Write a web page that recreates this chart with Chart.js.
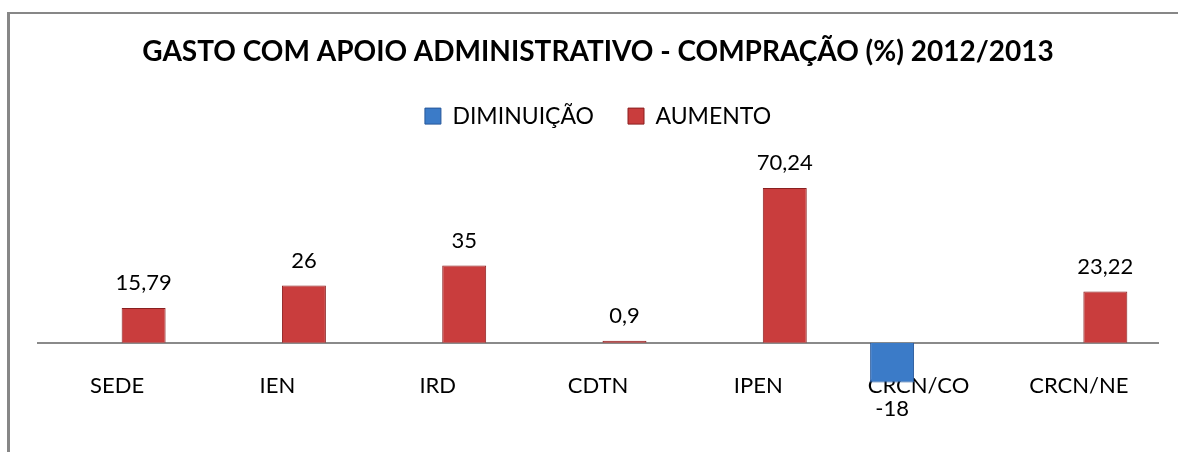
<!DOCTYPE html>
<html>
<head>
<meta charset="utf-8">
<script src="https://cdn.jsdelivr.net/npm/chart.js@4.4.0/dist/chart.umd.min.js"></script>
<style>
  html, body { margin:0; padding:0; background:#fff; }
  #wrap { position:relative; width:1178px; height:452px; overflow:hidden; }
  #frame { position:absolute; left:7px; top:12px; right:0; bottom:0; border-left:3px solid #878787; border-top:2px solid #878787; }
  #chart { position:absolute; left:0; top:0; }
</style>
</head>
<body>
<div id="wrap">
  <div id="frame"></div>
  <canvas id="chart" width="1178" height="452"></canvas>
</div>
<script>
// data
const categories = ['SEDE', 'IEN', 'IRD', 'CDTN', 'IPEN', 'CRCN/CO', 'CRCN/NE'];
const diminuicao = [null, null, null, null, null, -18, null];
const aumento = [15.79, 26, 35, 0.9, 70.24, null, 23.22];

const FONT = 'Lato, "Open Sans", sans-serif';

function fmt(v){ return String(v).replace('.', ','); }

// grey line at zero, only across the plot area
const zeroLine = {
  id: 'zeroLine',
  beforeDatasetsDraw(chart){
    const {ctx, chartArea, scales} = chart;
    const y = Math.round(scales.y.getPixelForValue(0));
    ctx.save();
    ctx.strokeStyle = '#8a8a8a';
    ctx.lineWidth = 2;
    ctx.beginPath();
    ctx.moveTo(chartArea.left, y);
    ctx.lineTo(chartArea.right, y);
    ctx.stroke();
    ctx.restore();
  }
};

// value labels above (or below) every bar
const valueLabels = {
  id: 'valueLabels',
  afterDatasetsDraw(chart){
    const ctx = chart.ctx;
    ctx.save();
    ctx.font = '22px ' + FONT;
    ctx.fillStyle = '#000';
    ctx.textAlign = 'center';
    ctx.textBaseline = 'middle';
    chart.data.datasets.forEach((ds, i) => {
      const meta = chart.getDatasetMeta(i);
      meta.data.forEach((bar, j) => {
        const v = ds.data[j];
        if(v == null) return;
        const y = v >= 0 ? bar.y - 25 : bar.y + 27;
        ctx.fillText(fmt(v), bar.x, y);
      });
    });
    ctx.restore();
  }
};

const chart = new Chart(document.getElementById('chart').getContext('2d'), {
  type: 'bar',
  data: {
    labels: categories,
    datasets: [
      { label: 'DIMINUIÇÃO', data: diminuicao, backgroundColor: '#3b7bc8', borderColor: '#27589a', borderWidth: 1 },
      { label: 'AUMENTO', data: aumento, backgroundColor: '#c93d3d', borderColor: '#8a1f1f', borderWidth: 1 }
    ]
  },
  options: {
    responsive: false,
    animation: false,
    events: [],
    categoryPercentage: 0.661,
    barPercentage: 0.83,
    layout: { padding: { left: 37, right: 19, top: 0, bottom: 52 } },
    datasets: { bar: { clip: false } },
    plugins: {
      title: {
        display: true,
        text: 'GASTO COM APOIO ADMINISTRATIVO - COMPRAÇÃO (%) 2012/2013',
        color: '#000',
        font: { family: FONT, size: 28, weight: 'bold' },
        padding: { top: 35, bottom: 2 }
      },
      legend: {
        display: true,
        labels: {
          color: '#000',
          font: { family: FONT, size: 23 },
          boxWidth: 16, boxHeight: 16,
          padding: 34
        }
      },
      tooltip: { enabled: false }
    },
    scales: {
      x: {
        grid: { display: false, drawTicks: false },
        border: { display: false },
        ticks: { color: '#000', font: { family: FONT, size: 22 }, padding: 1, maxRotation: 0, autoSkip: false }
      },
      y: {
        min: -13.1,
        max: 93.1,
        ticks: { display: false },
        border: { display: false },
        grid: { display: false, drawTicks: false }
      }
    }
  },
  plugins: [zeroLine, valueLabels]
});
</script>
</body>
</html>
